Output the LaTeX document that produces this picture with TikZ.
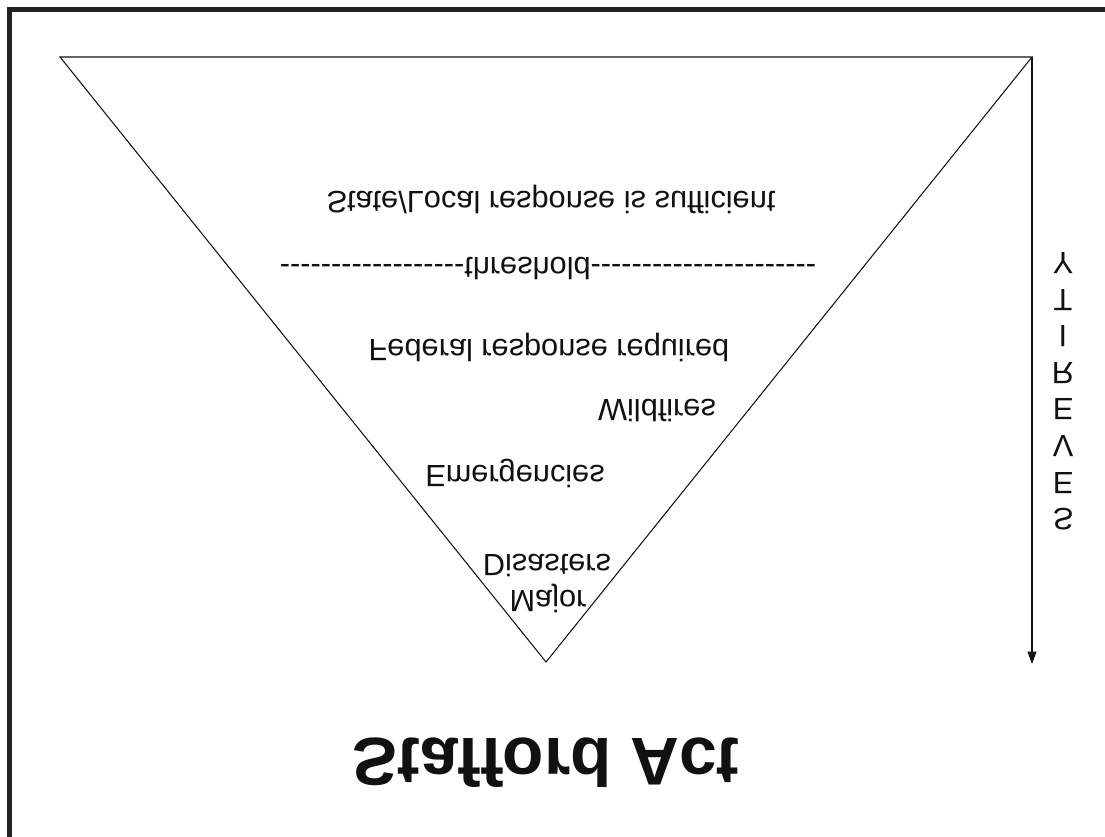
\documentclass[tikz,border=0pt]{standalone}
\usepackage{fontspec}
\setmainfont{Liberation Sans}[Ligatures=TeXOff]
\usetikzlibrary{positioning,arrows.meta,calc}
\definecolor{ink}{HTML}{111111}
\definecolor{frame}{HTML}{222222}

\tikzset{
  lbl/.style={font=\fontsize{17.5}{20}\selectfont,inner sep=0pt,yscale=-1,color=ink},
  big/.style={font=\fontsize{38.5}{44}\selectfont\bfseries,inner sep=0pt,yscale=-1,color=ink}
}

\begin{document}
\begin{tikzpicture}[x=0.02cm,y=-0.02cm]
      \useasboundingbox (0,0) rectangle (1105,837);
      \fill[white] (0,0) rectangle (1105,837);

      % frame (only top and left edge visible)
      \draw[line width=3pt,color=frame] (9.5,837) -- (9.5,9.5) -- (1105,9.5);

      \coordinate (t0) at (60,57);
      \coordinate (t1) at (1032,57);
      \coordinate (t2) at (546,662);
      \coordinate (tip) at (1032,664);

      \draw[line width=0.6pt,color=ink,line join=miter] (t0) -- (t1) -- (t2) -- cycle;
      \draw[line width=0.6pt,color=ink,-{Triangle[length=7pt,width=5pt]}] (t1) -- (tip);

      \node[lbl] (state)   at (551,199) {State/Local response is sufficient};
      \node[lbl] (thresh)  at (548,268) {------------------threshold----------------------};
      \node[lbl] (federal) at (549,347) {Federal response required};
      \node[lbl] (wild)    at (657,410) {Wildfires};
      \node[lbl] (emerg)   at (515,473) {Emergencies};
      \node[lbl] (disast)  at (547,565) {Disasters};
      \node[lbl] (major)   at (548,598) {Major};

      \node[big] (title) at (546,763) {Stafford Act};

      \foreach \ch [count=\i] in {Y,T,I,R,E,V,E,S}
        \node[lbl] (sev\i) at (1063,{263+36.6*(\i-1)}) {\ch};
    \end{tikzpicture}
\end{document}
